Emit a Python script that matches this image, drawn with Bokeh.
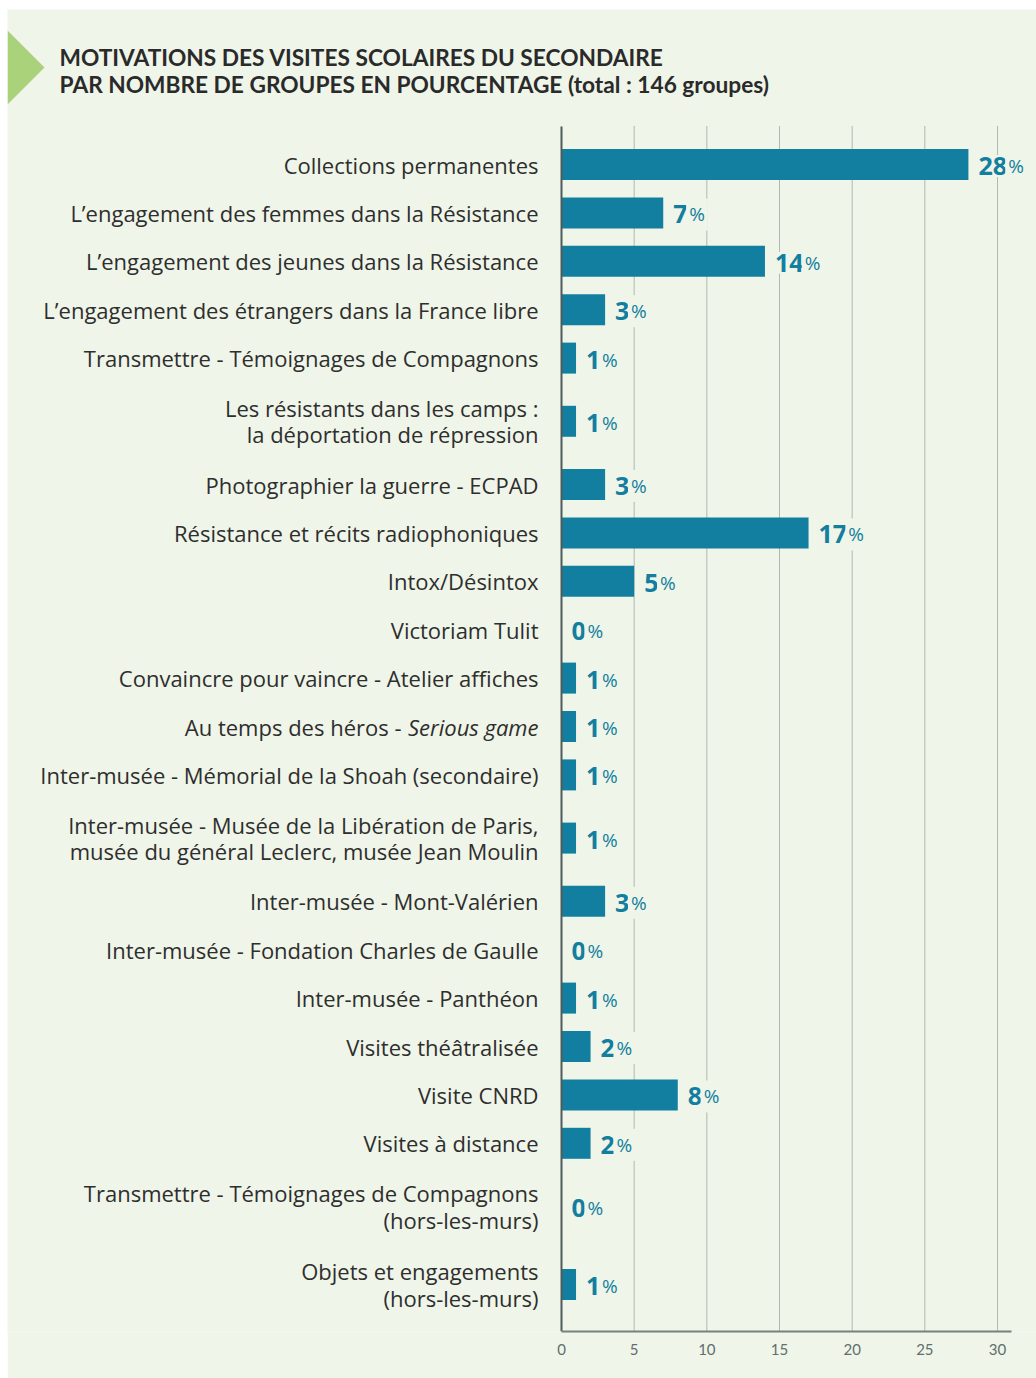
from bokeh.plotting import figure
from bokeh.models import Range1d, FixedTicker, ColumnDataSource
from bokeh.core.properties import value
from bokeh.embed import file_html
from bokeh.resources import INLINE

# ---------------- data ----------------
title_lines = [
    "MOTIVATIONS DES VISITES SCOLAIRES DU SECONDAIRE",
    "PAR NOMBRE DE GROUPES EN POURCENTAGE (total : 146 groupes)",
]
categories = [
    "Collections permanentes",
    "L’engagement des femmes dans la Résistance",
    "L’engagement des jeunes dans la Résistance",
    "L’engagement des étrangers dans la France libre",
    "Transmettre - Témoignages de Compagnons",
    "Les résistants dans les camps :\nla déportation de répression",
    "Photographier la guerre - ECPAD",
    "Résistance et récits radiophoniques",
    "Intox/Désintox",
    "Victoriam Tulit",
    "Convaincre pour vaincre - Atelier affiches",
    "Au temps des héros - Serious game",
    "Inter-musée - Mémorial de la Shoah (secondaire)",
    "Inter-musée - Musée de la Libération de Paris,\nmusée du général Leclerc, musée Jean Moulin",
    "Inter-musée - Mont-Valérien",
    "Inter-musée - Fondation Charles de Gaulle",
    "Inter-musée - Panthéon",
    "Visites théâtralisée",
    "Visite CNRD",
    "Visites à distance",
    "Transmettre - Témoignages de Compagnons\n(hors-les-murs)",
    "Objets et engagements\n(hors-les-murs)",
]
values = [28, 7, 14, 3, 1, 1, 3, 17, 5, 0, 1, 1, 1, 1, 3, 0, 1, 2, 8, 2, 0, 1]
italic_suffix = "Serious game"
x_ticks = [0, 5, 10, 15, 20, 25, 30]

# ---------------- styling / layout ----------------
BG = "#eff5e8"
TEAL = "#137fa0"
LABEL_COLOR = "#2e2e2e"
W, H = 1029, 1369
BOTTOM_BORDER = 47
PX_PER_X = 14.533          # pixels per percentage point
X0_PX = 554                # canvas pixel of x = 0
ROW_PX = 48.4              # height of a one-line row in pixels
ROW2_PX = 78.0             # height of a two-line row in pixels
ROW0_TOP_PX = 130.8        # canvas pixel of the top of the first row
AXIS_TOP_PX = 117
FRAME_H = H - BOTTOM_BORDER

def px_x(px):
    return (px - X0_PX) / PX_PER_X

def px_y(py):
    return (py - ROW0_TOP_PX) / ROW_PX

x_start, x_end = px_x(0), px_x(W)
y_top, y_bottom = px_y(0), px_y(FRAME_H)

# row positions from the number of text lines of each label
heights = [1.0 if "\n" not in c else ROW2_PX / ROW_PX for c in categories]
centers = []
acc = 0.0
for h in heights:
    centers.append(acc + h / 2)
    acc += h

p = figure(
    width=W, height=H,
    x_range=Range1d(x_start, x_end),
    y_range=Range1d(y_bottom, y_top),
    output_backend="svg", toolbar_location=None,
    y_axis_location=None, title=None,
    min_border_left=0, min_border_right=0, min_border_top=0,
    min_border_bottom=BOTTOM_BORDER,
    margin=(9, 0, 0, 7),
)
p.background_fill_color = BG
p.border_fill_color = BG
p.outline_line_color = None
p.grid.visible = False

# x axis
p.xaxis.ticker = FixedTicker(ticks=x_ticks)
p.xaxis.bounds = (0, px_x(X0_PX + 450))
p.xaxis.axis_line_color = "#76817f"
p.xaxis.axis_line_width = 2
p.xaxis.major_tick_line_color = None
p.xaxis.minor_tick_line_color = None
p.xaxis.major_label_text_font = "Lato"
p.xaxis.major_label_text_font_size = "15px"
p.xaxis.major_label_text_color = "#5f6e6e"
p.xaxis.major_label_standoff = 6

# dotted grid lines
grid_x = [t for t in x_ticks if t > 0]
p.segment(x0=grid_x, x1=grid_x, y0=[px_y(AXIS_TOP_PX)] * len(grid_x),
          y1=[y_bottom] * len(grid_x), line_color="#6f7c7c",
          line_width=1, line_dash="1 1")

# bars
src = ColumnDataSource(dict(y=centers, v=values, cat=categories))
p.hbar(y="y", left=0, right="v", height=31 / ROW_PX, source=src,
       fill_color=TEAL, line_color=None)

# vertical axis line
p.segment(x0=[0], x1=[0], y0=[px_y(AXIS_TOP_PX)], y1=[y_bottom],
          line_color="#4f5a5a", line_width=2)

# value labels
num_txt = [str(v) for v in values]
pct_off = [8 + 13.9 * len(s) + 1 for s in num_txt]
p.text(x=values, y=centers, text=num_txt, x_offset=8, y_offset=1.5,
       text_align="left", text_baseline="alphabetic",
       text_font=value("Open Sans"), text_font_style="bold",
       text_font_size="25px", text_color=TEAL,
       background_fill_color=BG, padding=2)
p.text(x=values, y=centers, text=["%"] * len(values), x_offset=pct_off,
       y_offset=1.5, text_align="left", text_baseline="alphabetic",
       text_font=value("Open Sans"), text_font_size="19px",
       text_color=TEAL, background_fill_color=BG, padding=3)

# category labels (italic suffix drawn separately)
ITALIC_W = 132
plain, offs = [], []
ital_y = []
for c, y in zip(categories, centers):
    if c.endswith(italic_suffix):
        plain.append(c[: -len(italic_suffix)].rstrip())
        offs.append(-23 - ITALIC_W - 5)
        ital_y.append(y)
    else:
        plain.append(c)
        offs.append(-23)
p.text(x=[0] * len(plain), y=centers, text=plain, x_offset=offs,
       text_align="right", text_baseline="middle",
       text_font=value("Open Sans"), text_font_size="22px",
       text_color=LABEL_COLOR, text_line_height=0.87)
p.text(x=[0] * len(ital_y), y=ital_y, text=[italic_suffix] * len(ital_y),
       x_offset=-23, text_align="right", text_baseline="middle",
       text_font=value("Open Sans"), text_font_style="italic",
       text_font_size="22px", text_color=LABEL_COLOR)

# title and marker triangle
p.text(x=[px_x(52)] * 2, y=[px_y(48), px_y(75)], text=title_lines,
       text_align="left", text_baseline="middle",
       text_font=value("Lato"), text_font_style="bold",
       text_font_size="22.7px", text_color="#2a2a2a")
p.patch(x=[px_x(0), px_x(37), px_x(0)], y=[px_y(21), px_y(58), px_y(95)],
        fill_color="#a9d27b", line_color=None)

open("out.html", "w").write(file_html(p, INLINE))
